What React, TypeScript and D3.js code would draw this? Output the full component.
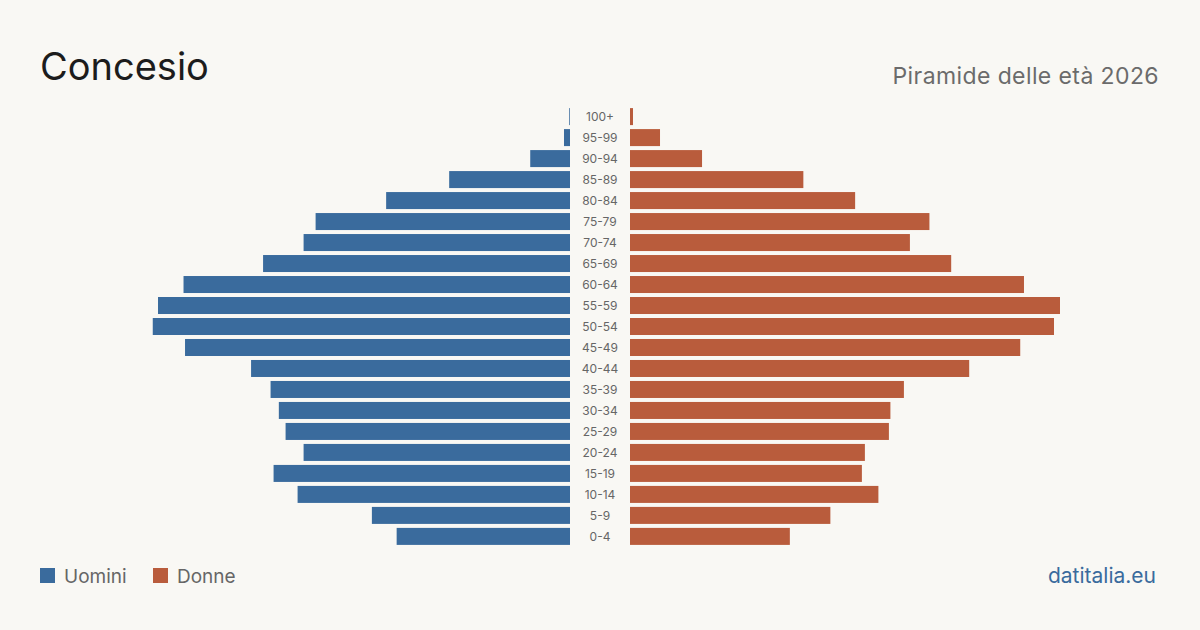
import React, { useEffect, useRef } from "react";
import * as d3 from "d3";

// age groups, oldest at the top
const ageGroups = [
  "100+", "95-99", "90-94", "85-89", "80-84", "75-79", "70-74", "65-69",
  "60-64", "55-59", "50-54", "45-49", "40-44", "35-39", "30-34", "25-29",
  "20-24", "15-19", "10-14", "5-9", "0-4",
];

// residents per age group
const uomini = [
  1, 8, 53, 161, 245, 339, 355, 409, 515, 549, 556, 513, 425, 399, 388,
  379, 355, 395, 363, 264, 231,
];
const donne = [
  4, 40, 96, 231, 300, 399, 373, 428, 525, 573, 565, 520, 452, 365, 347,
  345, 313, 309, 331, 267, 213,
];

const legendItems = ["Uomini", "Donne"];
const colors = ["#3a6b9d", "#b95c3c"];

const W = 1200;
const H = 630;
const BG = "#f9f8f4";
const FONT = "Inter, 'Noto Sans', sans-serif";

function Pyramid() {
  const ref = useRef<SVGSVGElement | null>(null);

  useEffect(() => {
    document.body.style.margin = "0";
    document.body.style.background = BG;

    const svg = d3.select(ref.current);
    svg.selectAll("*").remove();

    svg.append("rect").attr("width", W).attr("height", H).attr("fill", BG);

    const centerL = 570;
    const centerR = 630;
    const maxW = 430;

    const y = d3.scaleBand<string>()
      .domain(ageGroups)
      .range([106, 547])
      .paddingInner(0.19)
      .paddingOuter(0.1);

    const xv = d3.scaleLinear().domain([0, 573]).range([0, maxW]);

    svg.append("g")
      .selectAll("rect")
      .data(ageGroups)
      .join("rect")
      .attr("x", (d, i) => centerL - xv(uomini[i]))
      .attr("y", d => y(d)!)
      .attr("width", (d, i) => xv(uomini[i]))
      .attr("height", y.bandwidth())
      .attr("fill", colors[0]);

    svg.append("g")
      .selectAll("rect")
      .data(ageGroups)
      .join("rect")
      .attr("x", centerR)
      .attr("y", d => y(d)!)
      .attr("width", (d, i) => xv(donne[i]))
      .attr("height", y.bandwidth())
      .attr("fill", colors[1]);

    svg.append("g")
      .selectAll("text")
      .data(ageGroups)
      .join("text")
      .attr("x", (centerL + centerR) / 2)
      .attr("y", d => y(d)! + y.bandwidth() / 2)
      .attr("dy", "0.35em")
      .attr("text-anchor", "middle")
      .attr("font-family", FONT)
      .attr("font-size", 12)
      .attr("fill", "#666")
      .text(d => d);

    svg.append("text")
      .attr("x", 40)
      .attr("y", 80)
      .attr("font-family", FONT)
      .attr("font-size", 38)
      .attr("fill", "#1c1c1c")
      .text("Concesio");

    svg.append("text")
      .attr("x", 1159)
      .attr("y", 84)
      .attr("text-anchor", "end")
      .attr("font-family", FONT)
      .attr("font-size", 23)
      .attr("letter-spacing", 0.4)
      .attr("fill", "#6b6b6b")
      .text("Piramide delle età 2026");

    // legend
    const lg = svg.append("g").attr("font-family", FONT).attr("font-size", 19);
    const offsets = [40, 153];
    legendItems.forEach((name, i) => {
      lg.append("rect")
        .attr("x", offsets[i])
        .attr("y", 568)
        .attr("width", 15)
        .attr("height", 15)
        .attr("fill", colors[i]);
      lg.append("text")
        .attr("x", offsets[i] + 24)
        .attr("y", 583)
        .attr("fill", "#666")
        .text(name);
    });

    svg.append("text")
      .attr("x", 1156)
      .attr("y", 583)
      .attr("text-anchor", "end")
      .attr("font-family", FONT)
      .attr("font-size", 21)
      .attr("fill", "#3a6b9d")
      .text("datitalia.eu");
  }, []);

  return <svg ref={ref} width={W} height={H} style={{ display: "block" }} />;
}

export default function App() {
  return <Pyramid />;
}
